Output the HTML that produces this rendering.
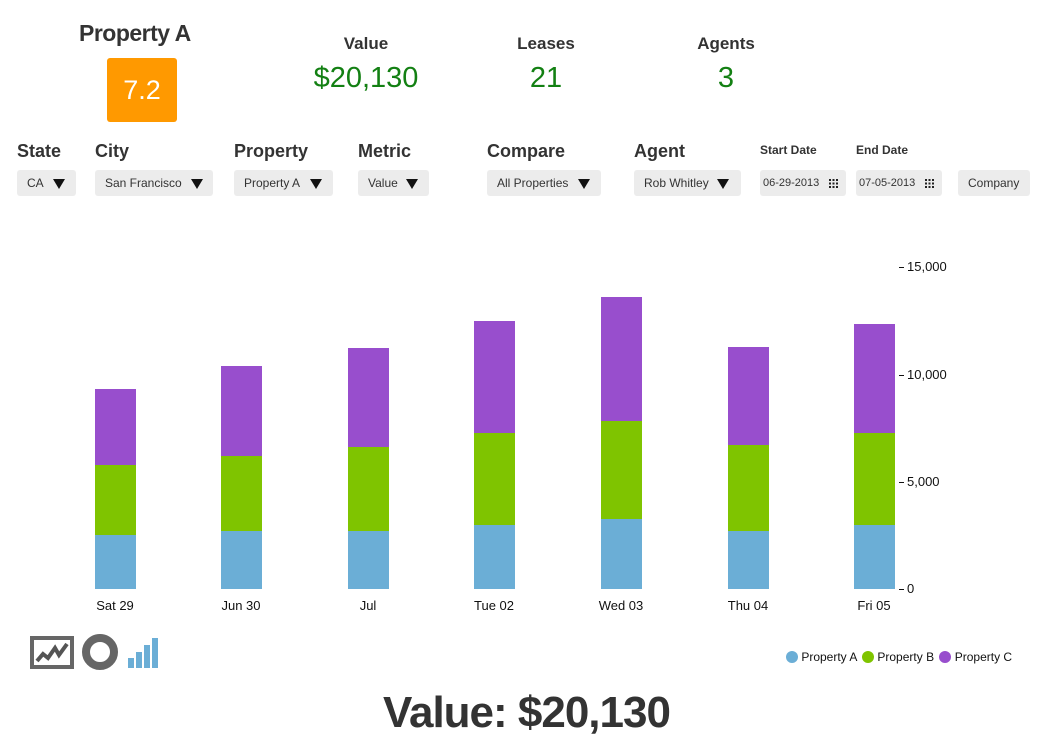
<!DOCTYPE html>
<html><head><meta charset="utf-8"><style>
body{margin:0;width:1053px;height:755px;background:#fff;position:relative;overflow:hidden;font-family:"Liberation Sans",Arial,sans-serif;color:#333}
.a{position:absolute;white-space:nowrap}
.lbl{font-weight:bold;font-size:18px;color:#333}
.sel{position:absolute;top:170px;height:26px;background:#ececec;border-radius:3px;font-size:12px;color:#333;line-height:26px;box-sizing:border-box;padding-left:10px}
.tri{position:absolute;top:9px;width:0;height:0;border-left:6px solid transparent;border-right:6px solid transparent;border-top:10px solid #111}
.small{font-weight:bold;font-size:12px}
.hd{font-weight:bold;font-size:17px;color:#333;text-align:center}
.gv{font-size:29px;color:#138013;text-align:center}
.bar{position:absolute;width:41px}
.xl{position:absolute;top:598px;font-size:13px;color:#111;text-align:center;width:100px}
.yt{position:absolute;left:899px;width:5px;height:1px;background:#111}
.yl{position:absolute;left:907px;font-size:13px;color:#111}
.cal{position:absolute;left:69px;top:9px}
</style></head><body>
<div class="a" style="left:79px;top:20px;font-size:23px;font-weight:bold;letter-spacing:-0.5px">Property A</div>
<div class="a" style="left:107px;top:58px;width:70px;height:64px;background:#ff9900;border-radius:3px;color:#fff;font-size:27px;line-height:64px;text-align:center">7.2</div>
<div class="a hd" style="left:306px;top:34px;width:120px">Value</div>
<div class="a gv" style="left:296px;top:62px;width:140px">$20,130</div>
<div class="a hd" style="left:486px;top:34px;width:120px">Leases</div>
<div class="a gv" style="left:486px;top:62px;width:120px">21</div>
<div class="a hd" style="left:666px;top:34px;width:120px">Agents</div>
<div class="a gv" style="left:666px;top:62px;width:120px">3</div>

<div class="a lbl" style="left:17px;top:141px">State</div>
<div class="a lbl" style="left:95px;top:141px">City</div>
<div class="a lbl" style="left:234px;top:141px">Property</div>
<div class="a lbl" style="left:358px;top:141px">Metric</div>
<div class="a lbl" style="left:487px;top:141px">Compare</div>
<div class="a lbl" style="left:634px;top:141px">Agent</div>
<div class="a small" style="left:760px;top:143px">Start Date</div>
<div class="a small" style="left:856px;top:143px">End Date</div>

<div class="sel" style="left:17px;width:59px">CA<div class="tri" style="left:36px"></div></div>
<div class="sel" style="left:95px;width:118px">San Francisco<div class="tri" style="left:96px"></div></div>
<div class="sel" style="left:234px;width:99px">Property A<div class="tri" style="left:76px"></div></div>
<div class="sel" style="left:358px;width:71px">Value<div class="tri" style="left:48px"></div></div>
<div class="sel" style="left:487px;width:114px">All Properties<div class="tri" style="left:91px"></div></div>
<div class="sel" style="left:634px;width:107px">Rob Whitley<div class="tri" style="left:83px"></div></div>
<div class="sel" style="left:760px;width:86px;padding-left:3px;font-size:11px">06-29-2013<svg class="cal" width="9" height="9"><g fill="#222"><rect x="0" y="0" width="2" height="2"/><rect x="3.5" y="0" width="2" height="2"/><rect x="7" y="0" width="2" height="2"/><rect x="0" y="3.5" width="2" height="2"/><rect x="3.5" y="3.5" width="2" height="2"/><rect x="7" y="3.5" width="2" height="2"/><rect x="0" y="7" width="2" height="2"/><rect x="3.5" y="7" width="2" height="2"/><rect x="7" y="7" width="2" height="2"/></g></svg></div>
<div class="sel" style="left:856px;width:86px;padding-left:3px;font-size:11px">07-05-2013<svg class="cal" width="9" height="9"><g fill="#222"><rect x="0" y="0" width="2" height="2"/><rect x="3.5" y="0" width="2" height="2"/><rect x="7" y="0" width="2" height="2"/><rect x="0" y="3.5" width="2" height="2"/><rect x="3.5" y="3.5" width="2" height="2"/><rect x="7" y="3.5" width="2" height="2"/><rect x="0" y="7" width="2" height="2"/><rect x="3.5" y="7" width="2" height="2"/><rect x="7" y="7" width="2" height="2"/></g></svg></div>
<div class="sel" style="left:958px;width:72px">Company</div>

<div class="bar" style="left:95px;top:389px;height:76px;background:#984ecd"></div>
<div class="bar" style="left:95px;top:465px;height:70px;background:#7fc400"></div>
<div class="bar" style="left:95px;top:535px;height:54px;background:#6baed6"></div>

<div class="bar" style="left:221px;top:366px;height:90px;background:#984ecd"></div>
<div class="bar" style="left:221px;top:456px;height:75px;background:#7fc400"></div>
<div class="bar" style="left:221px;top:531px;height:58px;background:#6baed6"></div>

<div class="bar" style="left:348px;top:348px;height:99px;background:#984ecd"></div>
<div class="bar" style="left:348px;top:447px;height:84px;background:#7fc400"></div>
<div class="bar" style="left:348px;top:531px;height:58px;background:#6baed6"></div>

<div class="bar" style="left:474px;top:321px;height:112px;background:#984ecd"></div>
<div class="bar" style="left:474px;top:433px;height:92px;background:#7fc400"></div>
<div class="bar" style="left:474px;top:525px;height:64px;background:#6baed6"></div>

<div class="bar" style="left:601px;top:297px;height:124px;background:#984ecd"></div>
<div class="bar" style="left:601px;top:421px;height:98px;background:#7fc400"></div>
<div class="bar" style="left:601px;top:519px;height:70px;background:#6baed6"></div>

<div class="bar" style="left:728px;top:347px;height:98px;background:#984ecd"></div>
<div class="bar" style="left:728px;top:445px;height:86px;background:#7fc400"></div>
<div class="bar" style="left:728px;top:531px;height:58px;background:#6baed6"></div>

<div class="bar" style="left:854px;top:324px;height:109px;background:#984ecd"></div>
<div class="bar" style="left:854px;top:433px;height:92px;background:#7fc400"></div>
<div class="bar" style="left:854px;top:525px;height:64px;background:#6baed6"></div>

<div class="xl" style="left:65px">Sat 29</div>
<div class="xl" style="left:191px">Jun 30</div>
<div class="xl" style="left:318px">Jul</div>
<div class="xl" style="left:444px">Tue 02</div>
<div class="xl" style="left:571px">Wed 03</div>
<div class="xl" style="left:698px">Thu 04</div>
<div class="xl" style="left:824px">Fri 05</div>

<div class="yt" style="top:267px"></div><div class="yl" style="top:259px">15,000</div>
<div class="yt" style="top:375px"></div><div class="yl" style="top:367px">10,000</div>
<div class="yt" style="top:482px"></div><div class="yl" style="top:474px">5,000</div>
<div class="yt" style="top:589px"></div><div class="yl" style="top:581px">0</div>

<svg class="a" style="left:28px;top:634px" width="135" height="38">
<rect x="2" y="2" width="44" height="33" fill="#666"/>
<rect x="6" y="6" width="36" height="25" fill="#fff"/>
<polyline points="9,27 15,20 20,24 27,14 31,21 39,10" fill="none" stroke="#555" stroke-width="4"/>
<circle cx="72" cy="18" r="14" fill="none" stroke="#666" stroke-width="8"/>
<rect x="100" y="24" width="6" height="10" fill="#6baed6"/>
<rect x="108" y="18" width="6" height="16" fill="#6baed6"/>
<rect x="116" y="11" width="6" height="23" fill="#6baed6"/>
<rect x="124" y="4" width="6" height="30" fill="#6baed6"/>
</svg>

<div class="a" style="left:786px;top:650px;font-size:12px;color:#111">
<span style="display:inline-block;width:12px;height:12px;border-radius:50%;background:#6baed6;vertical-align:-2px"></span> Property A
<span style="display:inline-block;width:12px;height:12px;border-radius:50%;background:#7fc400;vertical-align:-2px;margin-left:2px"></span> Property B
<span style="display:inline-block;width:12px;height:12px;border-radius:50%;background:#984ecd;vertical-align:-2px;margin-left:2px"></span> Property C
</div>

<div class="a" style="left:0;width:1053px;top:688px;text-align:center;font-size:44px;font-weight:bold;color:#333;letter-spacing:-1px">Value: $20,130</div>
</body></html>
